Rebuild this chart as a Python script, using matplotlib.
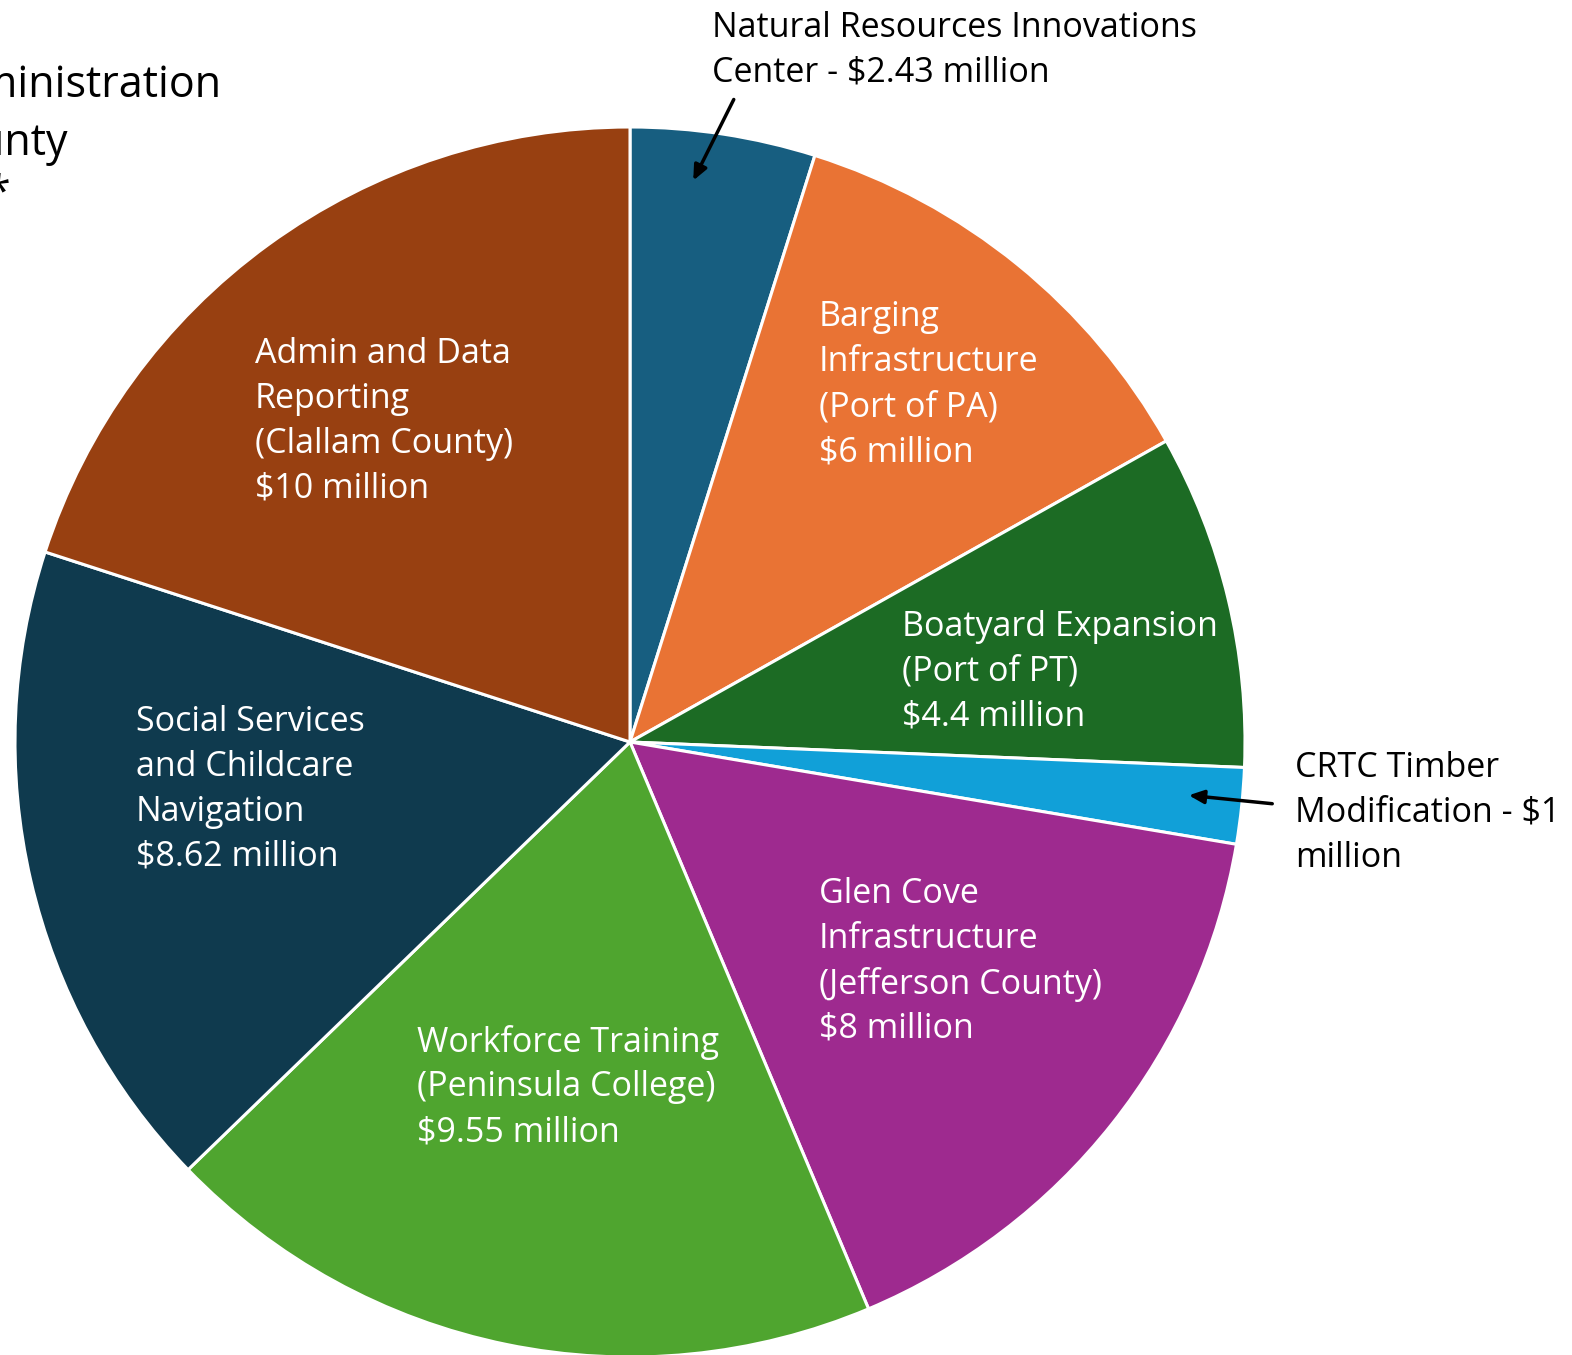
import matplotlib
matplotlib.use("Agg")
import matplotlib.pyplot as plt

# ---------- data ---------------
values = [2.43, 6, 4.4, 1, 8, 9.55, 8.62, 10]
colors = ["#175E80", "#E97334", "#1C6B24", "#11A0D8",
          "#9E2A8F", "#4FA52F", "#0F3A4E", "#984011"]
inside_labels = [
    None,
    "Barging\nInfrastructure\n(Port of PA)\n$6 million",
    "Boatyard Expansion\n(Port of PT)\n$4.4 million",
    None,
    "Glen Cove\nInfrastructure\n(Jefferson County)\n$8 million",
    "Workforce Training\n(Peninsula College)\n$9.55 million",
    "Social Services\nand Childcare\nNavigation\n$8.62 million",
    "Admin and Data\nReporting\n(Clallam County)\n$10 million",
]
nric_label = "Natural Resources Innovations\nCenter - $2.43 million"
crtc_label = "CRTC Timber\nModification - $1\nmillion"
title_lines = ["Administration", "County", "*"]

W, H = 1572, 1355
FONT = "Open Sans"
fs = 24.5
line_h = 45
dy = 4  # small vertical nudge for text centering

fig = plt.figure(figsize=(W / 100, H / 100), dpi=100)
ax = fig.add_axes([0, 0, 1, 1])

cx, cy, r = 630, H - 742, 615
ax.pie(values, colors=colors, startangle=90, counterclock=False,
       center=(cx, cy), radius=r,
       wedgeprops=dict(edgecolor="white", linewidth=2.2))
ax.set_xlim(0, W)
ax.set_ylim(0, H)
ax.set_aspect("equal")
ax.axis("off")


def draw_lines(text, x, y_first, color):
    for i, line in enumerate(text.split("\n")):
        ax.text(x, H - (y_first + dy + i * line_h), line, color=color,
                fontsize=fs, family=FONT, ha="left", va="center")


# inside label positions (pixel, top-left origin)
label_pos = [None, (819, 313), (902, 623), None,
             (819, 890), (417, 1038), (136, 718), (255, 350)]
for lab, pos in zip(inside_labels, label_pos):
    if lab:
        draw_lines(lab, pos[0], pos[1], "white")

# outside labels with arrows
draw_lines(nric_label, 712, 24, "black")
ax.annotate("", xy=(692, H - 183), xytext=(735, H - 97),
            arrowprops=dict(arrowstyle="-|>,head_length=0.9,head_width=0.4",
                            color="black", lw=2.5))
draw_lines(crtc_label, 1295, 764, "black")
ax.annotate("", xy=(1186, H - 795), xytext=(1275, H - 804),
            arrowprops=dict(arrowstyle="-|>,head_length=0.9,head_width=0.4",
                            color="black", lw=2.5))

# title block, cut off at the left edge as in the original
for txt, xe, yc in zip(title_lines, [221, 68, 10], [82, 140, 190]):
    ax.text(xe, H - (yc + dy), txt, fontsize=31, family=FONT, ha="right",
            va="center", color="black")

fig.savefig("out.png", dpi=100)
